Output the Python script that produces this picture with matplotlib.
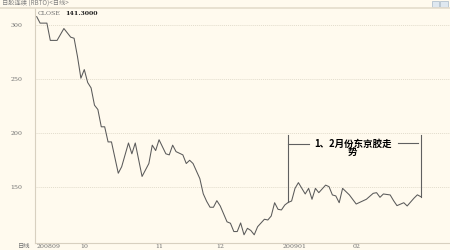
import matplotlib.pyplot as plt
from matplotlib.patches import Rectangle

plt.rcParams['font.family'] = ['Noto Sans CJK SC', 'DejaVu Sans']

# trading-day index and close price
days = [0, 1, 3, 4, 6, 8, 10, 11, 12, 13, 14, 15, 16, 17, 18, 19, 20, 21, 22, 24,
        25, 27, 28, 29, 31, 33, 34, 35, 36, 38, 39, 40, 41, 43, 44, 45, 46, 48, 49, 50,
        51, 52, 53, 54, 56, 57, 58, 59, 60, 61, 62, 63, 64, 65, 67, 68, 69, 70, 71, 72,
        73, 74, 75, 76, 77, 79, 80, 81, 82, 83, 85, 86, 87, 88, 89, 90, 92, 94, 97, 99,
        100, 101, 102, 104, 105, 106, 108, 109, 111, 112, 113]
close = [308, 302, 302, 286, 286, 297, 289, 288, 271, 251, 259, 247, 242, 226, 222, 206, 206, 192, 192, 163,
         169, 191, 181, 191, 160, 172, 189, 184, 194, 181, 180, 189, 183, 180, 172, 175, 172, 158, 144, 137,
         131.5, 131.5, 137.6, 132.7, 118, 116.7, 109, 109, 117, 106, 112, 110, 106, 113.5, 120.4, 119.7, 123.4, 135.7, 129.6, 129,
         133.6, 136, 137.3, 149, 154.3, 143.8, 149, 138.9, 149, 145, 152, 150.6, 142.9, 142, 135.7, 149, 142.9, 134.5, 138.9, 144.4,
         145, 140.7, 143.8, 142.9, 137.6, 133, 135.7, 132.7, 139.9, 143, 141.3]

month_pos = [0, 14, 36, 54, 76, 94]
month_lab = ['200809', '10', '11', '12', '200901', '02']
y_ticks = [150, 200, 250, 300]

bg = '#fffaee'
fig = plt.figure(figsize=(4.5, 2.5), dpi=100, facecolor=bg)
ax = fig.add_axes([35 / 450, 7 / 250, 415 / 450, 235 / 250], facecolor=bg)

ax.plot(days, close, color='#5a5a5a', lw=0.75)

ax.set_xlim(-0.5, 121.6)
ax.set_ylim(98.4, 316)

for s in ['top', 'right']:
    ax.spines[s].set_visible(False)
for s in ['left', 'bottom']:
    ax.spines[s].set_color('#d8d0c0')
    ax.spines[s].set_linewidth(0.8)

ax.set_yticks(y_ticks)
ax.set_yticklabels([str(v) for v in y_ticks], fontsize=4.5, color='#707070', family='DejaVu Serif')
ax.tick_params(axis='y', length=0, pad=9)
ax.grid(axis='y', color='#e2dccc', lw=0.7, ls=(0, (1, 1)))

ax.set_xticks(month_pos)
ax.set_xticklabels(month_lab, fontsize=4.5, color='#707070', family='DejaVu Serif')
ax.tick_params(axis='x', length=0, pad=1)
ax.get_xticklabels()[0].set_ha('left')
fig.text(30 / 450, 1 - 246 / 250, '日线', fontsize=4.5, color='#707070', ha='right', va='center')

# header
fig.text(2 / 450, 1 - 3.5 / 250, '日胶连续 (RBTO)<日线>', fontsize=4.5, color='#808080', va='center')
fig.add_artist(plt.Line2D([0, 1], [1 - 8 / 250, 1 - 8 / 250], color='#e4dccc', lw=1.2))
fig.add_artist(Rectangle((432 / 450, 1 - 7 / 250), 7 / 450, 6 / 250, fc='#dfe8f0', ec='#a8b8c8', lw=0.5))
fig.add_artist(Rectangle((440 / 450, 1 - 7 / 250), 8 / 450, 6 / 250, fc='#dfe8f0', ec='#a8b8c8', lw=0.5))
ax.text(0.3, 311, 'CLOSE', fontsize=4.5, color='#707070', va='center', family='DejaVu Serif')
ax.text(8.5, 311, '141.3000', fontsize=4.5, color='#202020', va='center', family='DejaVu Serif', weight='bold')

# bracket annotation
br = '#606060'
ax.plot([74, 74], [198.4, 136], color=br, lw=0.8)
ax.plot([74, 80], [190, 190], color=br, lw=0.8)
ax.plot([106.3, 112.2], [191, 191], color=br, lw=0.8)
ax.plot([113, 113], [198.4, 141.3], color=br, lw=0.8)
ax.text(93, 195, '1、2月份东京胶走\n势', fontsize=6.8, weight='bold', color='black',
        ha='center', va='top', linespacing=0.75)

fig.savefig('out.png', dpi=100, facecolor=bg)
